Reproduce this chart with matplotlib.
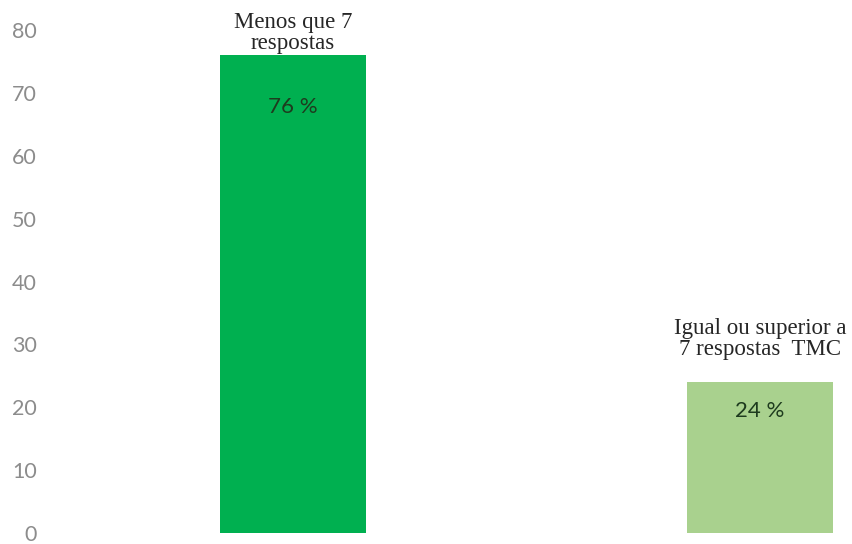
import matplotlib
matplotlib.use("Agg")
import matplotlib.pyplot as plt

# dados
categorias = ["Menos que 7\nrespostas", "Igual ou superior a\n7 respostas  TMC"]
valores = [76, 24]
rotulos = ["76 %", "24 %"]
cores = ["#00b050", "#a9d18e"]
yticks = [0, 10, 20, 30, 40, 50, 60, 70, 80]

# deslocamentos em pontos (categoria acima da barra, valor dentro da barra)
desloc_cat = [1, 16]
desloc_val = [-37, -21]

fig = plt.figure(figsize=(8.53, 5.44), dpi=100)
ax = fig.add_axes([60 / 853, 11 / 544, 793 / 853, 503 / 544])

x = list(range(len(valores)))
ax.bar(x, valores, width=0.3126, color=cores)

for xi, v, cat, rot, dc, dv in zip(x, valores, categorias, rotulos, desloc_cat, desloc_val):
    ax.annotate(cat, (xi, v), xytext=(0, dc), textcoords="offset points",
                ha="center", va="bottom", fontsize=16.5,
                family="Liberation Serif", color="#262626", linespacing=1.0)
    ax.annotate(rot, (xi, v), xytext=(0, dv), textcoords="offset points",
                ha="center", va="center", fontsize=16,
                family="Lato", color="#1e3b1e")

ax.set_xlim(-0.499, 1.199)
ax.set_ylim(0, 80)
ax.set_yticks(yticks)
ax.set_xticks([])
for s in ax.spines.values():
    s.set_visible(False)
ax.tick_params(axis="y", length=0, pad=16.5, labelsize=15.5, labelcolor="#8c8c8c")
for lbl in ax.get_yticklabels():
    lbl.set_family("Lato")

fig.savefig("out.png", dpi=100)
